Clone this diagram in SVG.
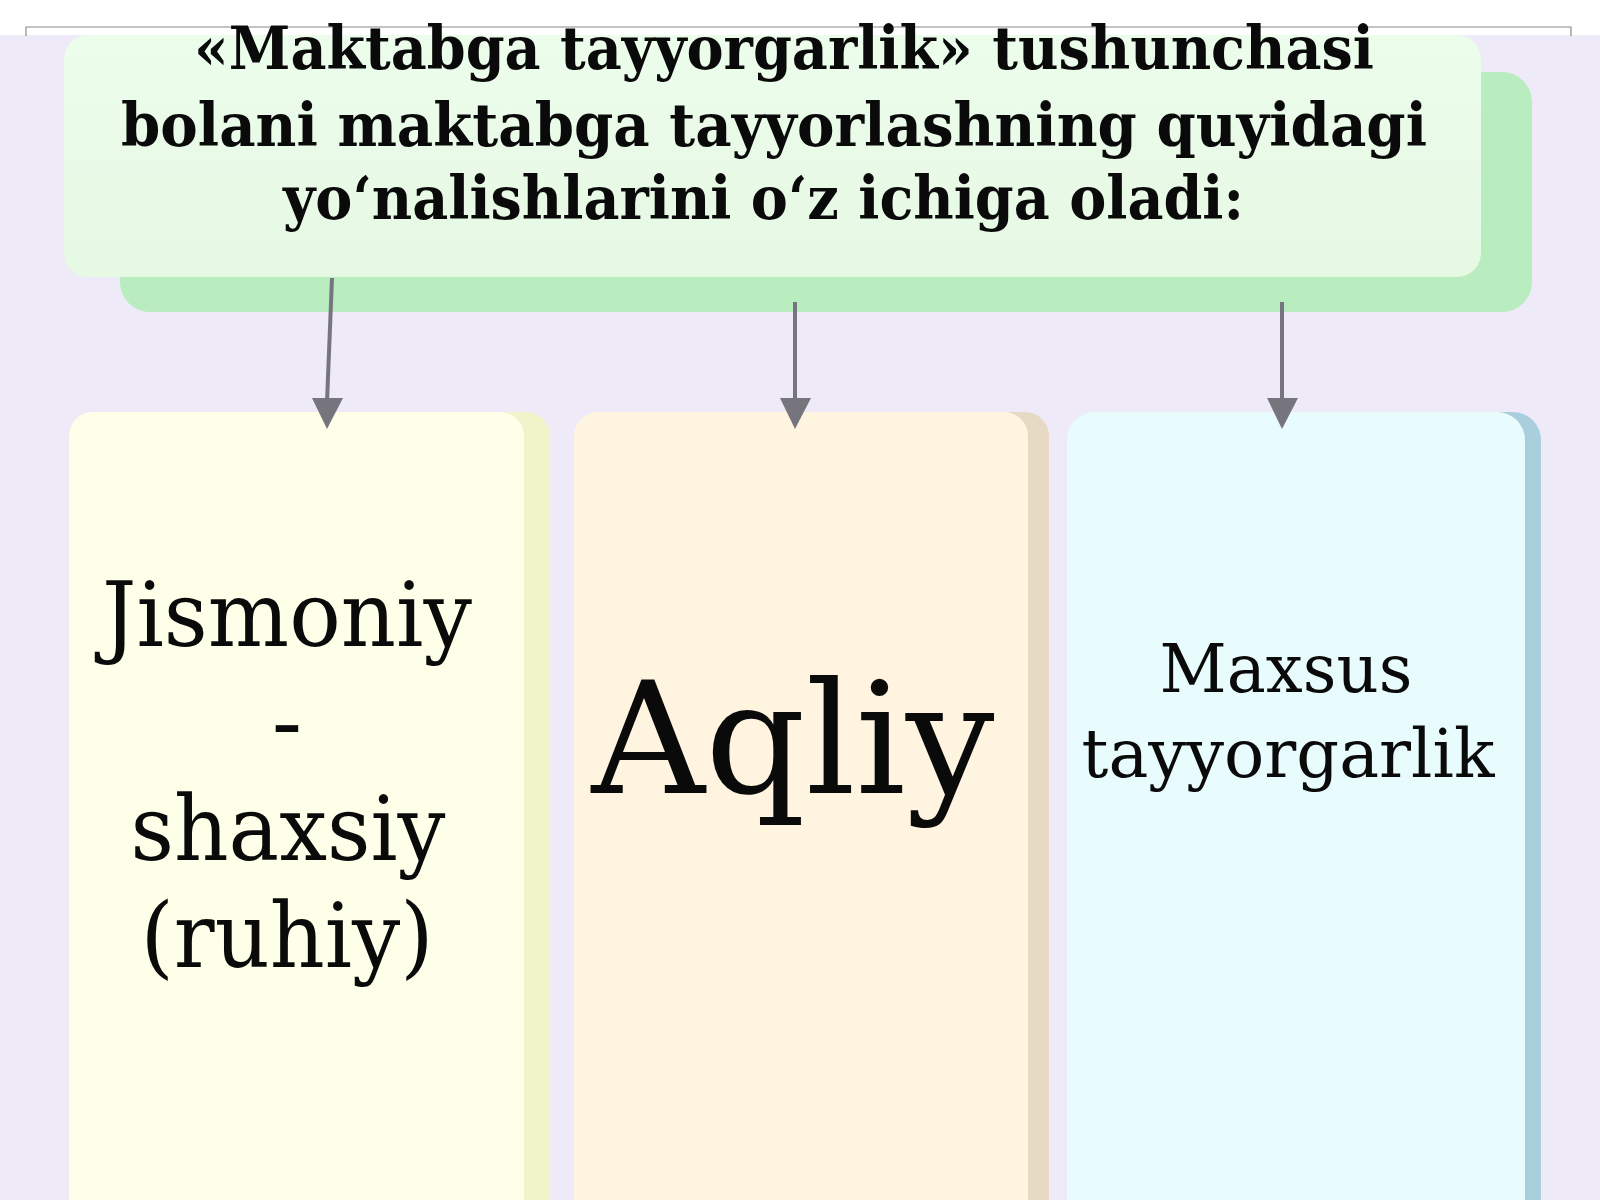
<svg xmlns="http://www.w3.org/2000/svg" width="1600" height="1200" viewBox="0 0 1600 1200">
<defs>
<style>
.hdr{font-family:"DejaVu Serif","Liberation Serif",serif;font-weight:bold;font-size:60px;fill:#0a0a0a}
.lbl{font-family:"DejaVu Serif","Liberation Serif",serif;fill:#0a0a0a;text-anchor:middle}
.conn{stroke:#76757d;stroke-width:4;fill:none}
.head{fill:#76757d}
</style>
<linearGradient id="gHdr" x1="0" y1="0" x2="0" y2="1">
<stop offset="0" stop-color="#ecfdec"/>
<stop offset="1" stop-color="#e6f9e3"/>
</linearGradient>
</defs>
<rect x="0" y="0" width="1600" height="1200" fill="#eeeaf8"/>
<rect x="0" y="0" width="1600" height="35" fill="#ffffff"/>
<path d="M26,36 L26,27 L1571,27 L1571,36" fill="none" stroke="#8a8a8a" stroke-width="1.2"/>

<g id="header">
<rect x="120" y="72" width="1412" height="240" rx="30" fill="#b9ecbf"/>
<rect x="64" y="35" width="1417" height="242" rx="24" fill="url(#gHdr)"/>
<text class="hdr" x="194" y="69" textLength="1180" lengthAdjust="spacingAndGlyphs">«Maktabga tayyorgarlik» tushunchasi</text>
<text class="hdr" x="121" y="146" textLength="1306" lengthAdjust="spacingAndGlyphs">bolani maktabga tayyorlashning quyidagi</text>
<text class="hdr" x="283" y="219" textLength="961" lengthAdjust="spacingAndGlyphs">yo‘nalishlarini o‘z ichiga oladi:</text>
</g>

<g id="box1">
<rect x="94" y="412" width="456" height="820" rx="24" fill="#eff4c9"/>
<rect x="69" y="412" width="455" height="820" rx="24" fill="#fdffe8"/>
<text class="lbl" font-size="90" x="287" y="646" textLength="370" lengthAdjust="spacingAndGlyphs">Jismoniy</text>
<text class="lbl" font-size="90" x="287" y="753">-</text>
<text class="lbl" font-size="90" x="288" y="860" textLength="315" lengthAdjust="spacingAndGlyphs">shaxsiy</text>
<text class="lbl" font-size="90" x="287" y="967" textLength="293" lengthAdjust="spacingAndGlyphs">(ruhiy)</text>
</g>

<g id="box2">
<rect x="595" y="412" width="454" height="820" rx="24" fill="#e7dac4"/>
<rect x="574" y="412" width="454" height="820" rx="24" fill="#fff4e0"/>
<text class="lbl" font-size="156" x="793" y="793" textLength="403" lengthAdjust="spacingAndGlyphs">Aqliy</text>
</g>

<g id="box3">
<rect x="1084" y="412" width="457" height="820" rx="28" fill="#a9cfdc"/>
<rect x="1067" y="412" width="458" height="820" rx="28" fill="#e8fcfe"/>
<text class="lbl" font-size="68" x="1286" y="692" textLength="253" lengthAdjust="spacingAndGlyphs">Maxsus</text>
<text class="lbl" font-size="68" x="1288" y="777" textLength="413" lengthAdjust="spacingAndGlyphs">tayyorgarlik</text>
</g>

<g id="connectors">
<line class="conn" x1="332" y1="278" x2="327" y2="402"/>
<path class="head" d="M312,398 L343,398 L327,429 Z"/>
<line class="conn" x1="795" y1="302" x2="795" y2="402"/>
<path class="head" d="M780,398 L811,398 L795,429 Z"/>
<line class="conn" x1="1282" y1="302" x2="1282" y2="402"/>
<path class="head" d="M1267,398 L1298,398 L1282,429 Z"/>
</g>
</svg>
